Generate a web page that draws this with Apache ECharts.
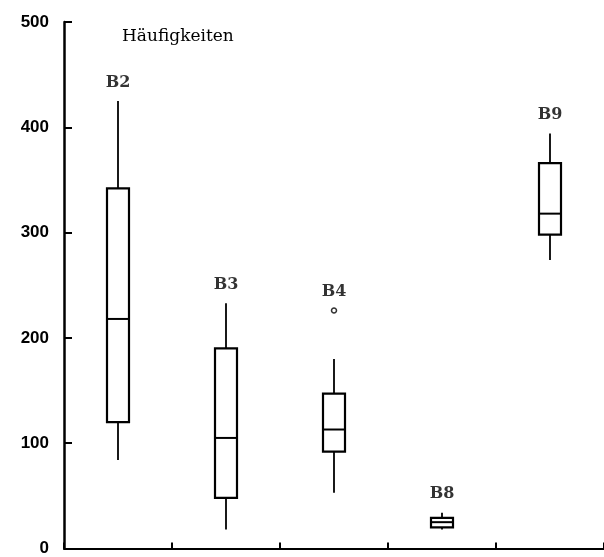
<!DOCTYPE html>
<html><head><meta charset="utf-8">
<script src="https://cdn.jsdelivr.net/npm/echarts@6/dist/echarts.min.js"></script>
<style>html,body{margin:0;padding:0;background:#fff}#c{width:604px;height:557px}</style>
</head><body><div id="c"></div>
<script>
var categories = ['B2', 'B3', 'B4', 'B8', 'B9'];
// [min, Q1, median, Q3, max]
var boxValues = [
  [84, 120, 218, 342, 425],
  [18, 48, 105, 190, 233],
  [53, 92, 113, 147, 180],
  [18, 20, 25, 29, 34],
  [274, 298, 318, 366, 394]
];
var outliers = [[2, 226]];
var yTicks = [0, 100, 200, 300, 400, 500];
var titleText = 'Häufigkeiten';

var boxData = boxValues.map(function (v, i) { return [i].concat(v); });
var labelData = categories.map(function (c, i) {
  var top = boxValues[i][4];
  outliers.forEach(function (o) { if (o[0] === i && o[1] > top) top = o[1]; });
  return { value: [i, top], name: c };
});

var chart = echarts.init(document.getElementById('c'), null, { renderer: 'canvas' });
var lineColor = '#000';
chart.setOption({
  animation: false,
  backgroundColor: '#fff',
  title: {
    text: titleText, left: 117, top: 23,
    textStyle: { fontFamily: 'DejaVu Serif', fontSize: 17, fontWeight: 'normal', color: '#000' }
  },
  grid: { left: 64, right: 0, top: 22, bottom: 3 },
  xAxis: {
    type: 'category', data: categories, boundaryGap: true,
    axisLine: { lineStyle: { color: lineColor, width: 2 } },
    axisTick: { show: true, interval: 0, inside: true, length: 6, lineStyle: { color: lineColor, width: 2 } },
    axisLabel: { show: false },
    splitLine: { show: false }
  },
  yAxis: {
    type: 'value', min: 0, max: 500, interval: 100,
    axisLine: { show: true, lineStyle: { color: lineColor, width: 2.5 } },
    axisTick: { show: true, inside: true, length: 8, lineStyle: { color: lineColor, width: 2 } },
    axisLabel: {
      margin: 15, color: '#000', fontFamily: 'Liberation Sans', fontSize: 17, fontWeight: 'bold',
      formatter: function (v) { return yTicks.indexOf(v) >= 0 ? String(v) : ''; }
    },
    splitLine: { show: false }
  },
  series: [
    {
      type: 'custom',
      data: boxData,
      encode: { x: 0, y: [1, 2, 3, 4, 5] },
      renderItem: function (params, api) {
        var x = api.value(0);
        var pMin = api.coord([x, api.value(1)]);
        var pQ1 = api.coord([x, api.value(2)]);
        var pMed = api.coord([x, api.value(3)]);
        var pQ3 = api.coord([x, api.value(4)]);
        var pMax = api.coord([x, api.value(5)]);
        var cx = Math.round(pMed[0]);
        var hw = 11;
        return {
          type: 'group',
          children: [
            { type: 'line', shape: { x1: cx, y1: pMax[1], x2: cx, y2: pQ3[1] }, style: { stroke: lineColor, lineWidth: 1.8 } },
            { type: 'line', shape: { x1: cx, y1: pQ1[1], x2: cx, y2: pMin[1] }, style: { stroke: lineColor, lineWidth: 1.8 } },
            { type: 'rect', shape: { x: cx - hw, y: pQ3[1], width: 2 * hw, height: pQ1[1] - pQ3[1] }, style: { stroke: lineColor, lineWidth: 2.2, fill: '#fff' } },
            { type: 'line', shape: { x1: cx - hw, y1: pMed[1], x2: cx + hw, y2: pMed[1] }, style: { stroke: lineColor, lineWidth: 2 } }
          ]
        };
      }
    },
    {
      type: 'scatter',
      data: outliers,
      symbol: 'circle', symbolSize: 5,
      itemStyle: { color: '#fff', borderColor: lineColor, borderWidth: 1.5 }
    },
    {
      type: 'scatter',
      data: labelData,
      symbol: 'circle',
      symbolSize: 1,
      itemStyle: { color: 'rgba(0,0,0,0)' },
      label: {
        show: true, position: 'top', distance: 10,
        formatter: function (p) { return p.name; },
        fontFamily: 'DejaVu Serif', fontWeight: 'bold', fontSize: 16, color: '#000'
      }
    }
  ]
});
</script>
</body></html>
